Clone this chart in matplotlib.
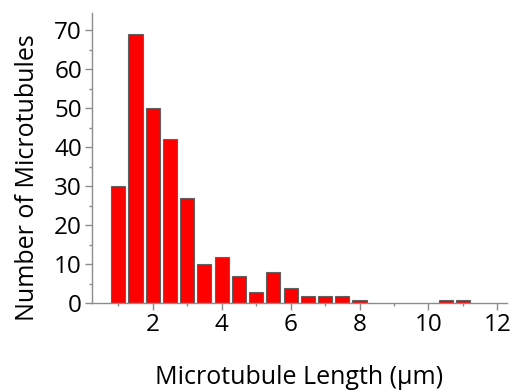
import matplotlib
matplotlib.use("Agg")
import matplotlib.pyplot as plt
from matplotlib.ticker import MultipleLocator

centers = [1.0, 1.5, 2.0, 2.5, 3.0, 3.5, 4.0, 4.5, 5.0, 5.5, 6.0, 6.5, 7.0, 7.5, 8.0, 10.5, 11.0]
counts = [30, 69, 50, 42, 27, 10, 12, 7, 3, 8, 4, 2, 2, 2, 1, 1, 1]
xticks = [2, 4, 6, 8, 10, 12]
yticks = [0, 10, 20, 30, 40, 50, 60, 70]

plt.rcParams['font.family'] = ['Open Sans', 'DejaVu Sans']

fig = plt.figure(figsize=(5.15, 3.92), dpi=100)
ax = fig.add_axes([0.178, 0.226, 0.806, 0.740])

ax.bar(centers, counts, width=0.41, color='#ff0000', edgecolor='#606060', linewidth=0.8, zorder=2)

ax.set_xlim(0.23, 12.27)
ax.set_ylim(0, 74.3)
ax.set_xticks(xticks)
ax.set_yticks(yticks)
ax.xaxis.set_minor_locator(MultipleLocator(1))
ax.yaxis.set_minor_locator(MultipleLocator(5))

for s in ['top', 'right']:
    ax.spines[s].set_visible(False)
for s in ['left', 'bottom']:
    ax.spines[s].set_color('#8c8c8c')
    ax.spines[s].set_linewidth(1.0)

ax.tick_params(axis='both', which='major', direction='out', length=5, width=1, color='#8c8c8c', labelsize=17.5, pad=2)
ax.tick_params(axis='both', which='minor', direction='out', length=2.5, width=1, color='#8c8c8c')

ax.set_xlabel('Microtubule Length (μm)', fontsize=18, labelpad=20)
ax.set_ylabel('Number of Microtubules', fontsize=18)
ax.yaxis.set_label_coords(-0.125, 0.435)

fig.savefig('out.png', dpi=100)
